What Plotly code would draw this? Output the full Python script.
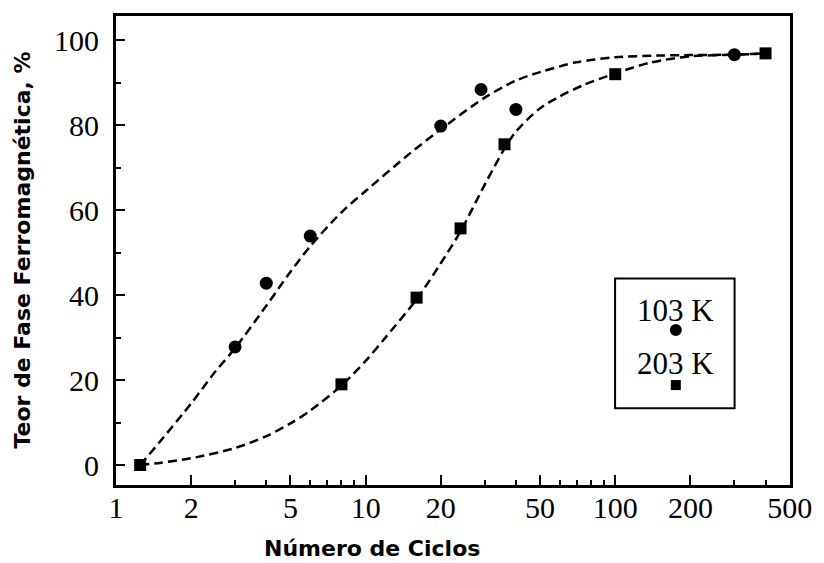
import plotly.graph_objects as go

# Measured points
x_103 = [3, 4, 6, 20, 29, 40, 300]
y_103 = [27.8, 42.8, 53.9, 79.8, 88.4, 83.7, 96.6]
x_203 = [1.25, 8, 16, 24, 36, 100, 400]
y_203 = [0, 19.0, 39.4, 55.7, 75.5, 92.0, 96.9]

# Dashed fitted curves
fit103_x = [1.25, 1.5, 2, 2.5, 3, 4, 5, 6, 8, 10, 15, 20, 30, 40, 50, 70, 100, 150, 200, 300, 400]
fit103_y = [0, 5.5, 14.5, 22, 27.5, 37.5, 45.5, 51.5, 59.5, 64.5, 73.3, 79, 86.5, 90.5, 92.5, 94.8, 96, 96.4, 96.5, 96.6, 96.9]
fit203_x = [1.25, 1.5, 2, 3, 4, 5, 6, 8, 10, 12, 16, 20, 24, 30, 36, 40, 50, 60, 75, 100, 140, 200, 300, 400]
fit203_y = [0, 0.5, 1.6, 4.0, 6.8, 9.8, 12.8, 18.7, 24.5, 30, 39, 47.5, 55, 66, 74.5, 78.5, 84, 86.8, 89.5, 92.2, 94.8, 96.2, 96.6, 96.9]

x_ticks = [1, 2, 5, 10, 20, 50, 100, 200, 500]
x_minor = [3, 4, 6, 7, 8, 9, 30, 40, 60, 70, 80, 90, 300, 400]
y_ticks = [0, 20, 40, 60, 80, 100]
y_minor = [10, 30, 50, 70, 90]
legend_labels = ["103 K", "203 K"]

dash = "9px,5px"
fig = go.Figure()
fig.add_trace(go.Scatter(x=fit103_x, y=fit103_y, mode="lines",
                         line=dict(color="black", width=2.5, dash=dash, shape="spline", smoothing=0.8),
                         hoverinfo="skip", showlegend=False))
fig.add_trace(go.Scatter(x=fit203_x, y=fit203_y, mode="lines",
                         line=dict(color="black", width=2.5, dash=dash, shape="spline", smoothing=0.8),
                         hoverinfo="skip", showlegend=False))
fig.add_trace(go.Scatter(x=x_103, y=y_103, mode="markers", name=legend_labels[0],
                         marker=dict(symbol="circle", size=13, color="black"), showlegend=False))
fig.add_trace(go.Scatter(x=x_203, y=y_203, mode="markers", name=legend_labels[1],
                         marker=dict(symbol="square", size=12, color="black"), showlegend=False))

tickfont = dict(family="Liberation Serif", size=30, color="black")
fig.update_xaxes(type="log", range=[0, 2.7], tickvals=x_ticks, ticktext=[str(v) for v in x_ticks],
                 ticks="inside", ticklen=10, tickwidth=2, tickcolor="black",
                 minor=dict(ticks="inside", tickvals=x_minor, ticklen=5, tickwidth=2, tickcolor="black"),
                 showline=True, linewidth=3, linecolor="black", mirror=True, showgrid=False,
                 zeroline=False, tickfont=tickfont, ticklabelstandoff=-6)
fig.update_yaxes(range=[-4.7, 105.7], tickvals=y_ticks,
                 ticks="inside", ticklen=9, tickwidth=2, tickcolor="black",
                 minor=dict(ticks="inside", tickvals=y_minor, ticklen=5, tickwidth=2, tickcolor="black"),
                 showline=True, linewidth=3, linecolor="black", mirror=True, showgrid=False,
                 zeroline=False, tickfont=tickfont, ticklabelstandoff=8)

# Custom legend box
fig.add_shape(type="rect", xref="paper", yref="paper", x0=0.7405, x1=0.9178, y0=0.1634, y1=0.4404,
              line=dict(color="black", width=2), fillcolor="white", layer="above")
lfont = dict(family="Liberation Serif", size=31, color="black")
fig.add_annotation(text=legend_labels[0], xref="paper", yref="paper", x=0.8306, y=0.3729,
                   showarrow=False, font=lfont, xanchor="center", yanchor="middle")
fig.add_annotation(text=legend_labels[1], xref="paper", yref="paper", x=0.8306, y=0.2593,
                   showarrow=False, font=lfont, xanchor="center", yanchor="middle")
fig.add_shape(type="circle", xref="paper", yref="paper", xsizemode="pixel", ysizemode="pixel",
              xanchor=0.8306, yanchor=0.3303, x0=-6, x1=6, y0=-6, y1=6,
              fillcolor="black", line=dict(color="black", width=0), layer="above")
fig.add_shape(type="rect", xref="paper", yref="paper", xsizemode="pixel", ysizemode="pixel",
              xanchor=0.8306, yanchor=0.2131, x0=-5, x1=5, y0=-5, y1=5,
              fillcolor="black", line=dict(color="black", width=0), layer="above")

# Axis titles
titlefont = dict(family="DejaVu Sans", size=22, color="black")
fig.add_annotation(text="<b>Número de Ciclos</b>", xref="paper", yref="paper", x=0.3796, y=-0.136,
                   showarrow=False, xanchor="center", yanchor="middle", font=titlefont)
fig.add_annotation(text="<b>Teor de Fase Ferromagnética, %</b>", xref="paper", yref="paper",
                   x=-0.1388, y=0.5007, textangle=-90, showarrow=False, xanchor="center", yanchor="middle",
                   font=titlefont)

fig.update_layout(width=824, height=563, margin=dict(l=116, r=31, t=16, b=78),
                  plot_bgcolor="white", paper_bgcolor="white", showlegend=False)
fig.write_html("out.html")
